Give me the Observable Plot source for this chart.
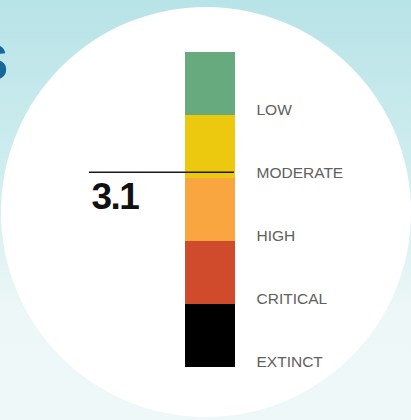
<!DOCTYPE html>
<html>
<head>
<meta charset="utf-8">
<script src="https://cdn.jsdelivr.net/npm/d3@7"></script>
<script src="https://cdn.jsdelivr.net/npm/@observablehq/plot@0.6"></script>
<style>
  html, body { margin: 0; padding: 0; }
  #wrap {
    position: relative; width: 411px; height: 420px; overflow: hidden;
    background: linear-gradient(to bottom, #b8e3e7 0%, #d2eef0 45%, #eef7f7 75%, #eff8f8 100%);
    font-family: "Liberation Sans", Arial, sans-serif;
  }
  #circle {
    position: absolute; left: 1px; top: 7px; width: 410px; height: 410px;
    border-radius: 50%; background: #ffffff;
  }
  #title {
    position: absolute; left: -40px; width: 48px; top: 38px; text-align: right;
    font: bold 50px "Liberation Sans", Arial, sans-serif; color: #17679a; line-height: 1;
  }
  #chart { position: absolute; left: 0; top: 0; }
</style>
</head>
<body>
<div id="wrap">
  <div id="circle"></div>
  <div id="title">S</div>
  <div id="chart"></div>
</div>
<script>
// Risk levels, bottom (0) to top (5)
const levels = ["EXTINCT", "CRITICAL", "HIGH", "MODERATE", "LOW"];
const levelColors = ["#000000", "#d04b2b", "#faa640", "#ecc90f", "#67aa7d"];
const score = 3.1;
const scoreLabel = "3.1";

const bands = levels.map((name, i) => ({name, lo: i, hi: i + 1, color: levelColors[i]}));

const plot = Plot.plot({
  width: 411,
  height: 420,
  margin: 0,
  style: {background: "transparent", overflow: "visible"},
  x: {domain: [0, 1], range: [185, 235], axis: null},
  y: {domain: [0, 5], range: [367, 52], axis: null},
  marks: [
    Plot.rectY(bands, {x1: 0, x2: 1, y1: "lo", y2: "hi", fill: "color"}),
    Plot.text(bands, {
      x: 1.42, y: "lo", text: "name", textAnchor: "start", lineAnchor: "middle", dy: -5,
      fill: "#606060", fontSize: 15.5, fontFamily: "Liberation Sans, Arial, sans-serif"
    }),
    Plot.ruleY([score], {x1: -1.92, x2: 0.98, stroke: "#1a1a1a", strokeWidth: 1.5}),
    Plot.text([score], {
      x: -1.88, y: (d) => d, text: () => scoreLabel, textAnchor: "start", lineAnchor: "middle",
      dy: 25, fill: "#111", fontSize: 37, fontWeight: "bold",
      fontFamily: "Liberation Sans, Arial, sans-serif"
    })
  ]
});
d3.select(plot).selectAll("text")
  .filter(function () { return this.textContent === scoreLabel; })
  .style("letter-spacing", "-1.5px");
document.getElementById("chart").appendChild(plot);
</script>
</body>
</html>
